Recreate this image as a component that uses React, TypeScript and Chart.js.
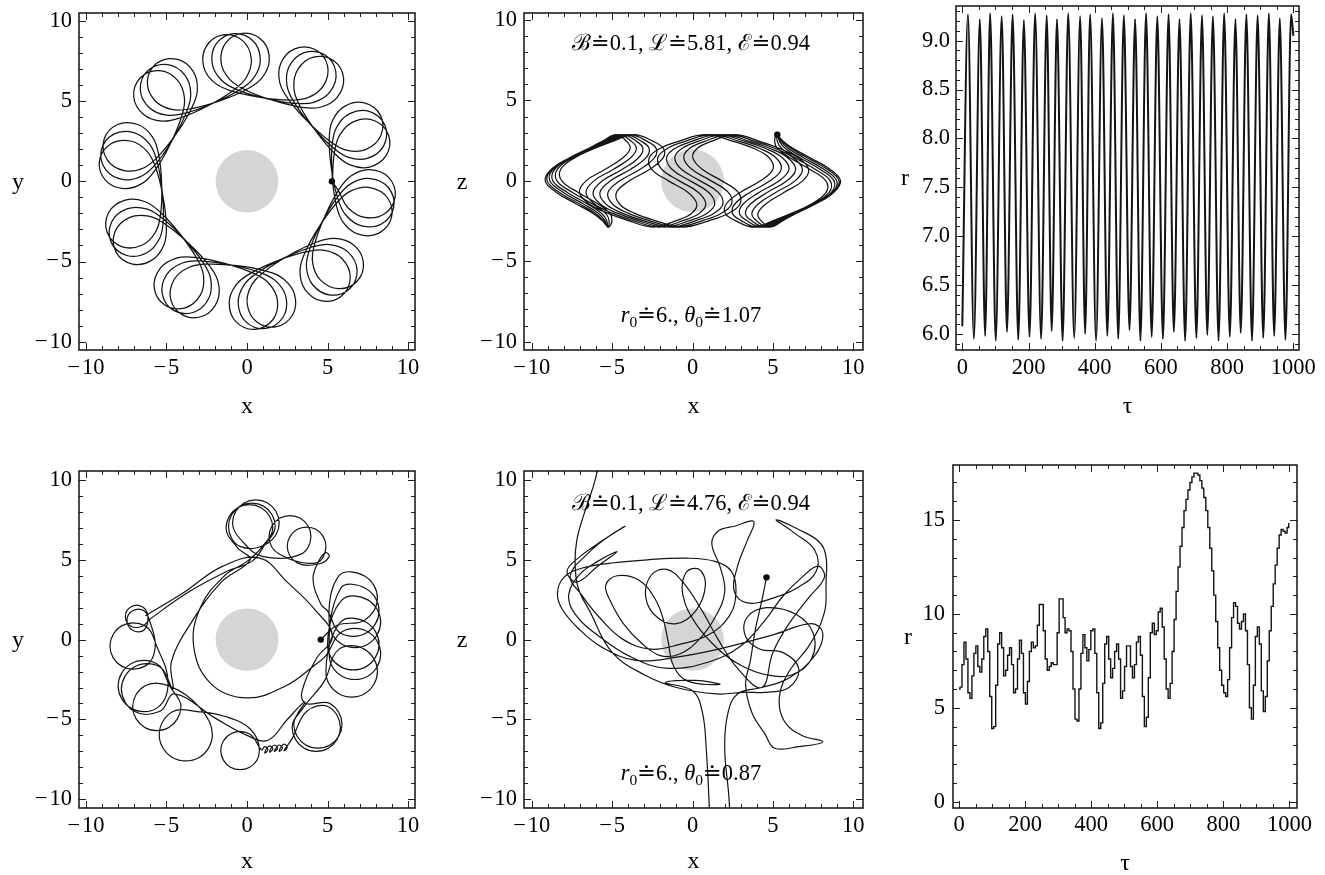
import React, { useEffect, useRef } from "react";
import { Chart, registerables } from "chart.js";
Chart.register(...registerables);

const SERIF = '"Liberation Serif", "Times New Roman", "DejaVu Serif", serif';

// ---------------- tick values ----------------
const xyMajor = [-10, -5, 0, 5, 10];
const xyMinor = [-9, -8, -7, -6, -4, -3, -2, -1, 1, 2, 3, 4, 6, 7, 8, 9];
const tauMajor = [0, 200, 400, 600, 800, 1000];
const tauMinor = [50, 100, 150, 250, 300, 350, 450, 500, 550, 650, 700, 750, 850, 900, 950];
const rTopMajor = [6.0, 6.5, 7.0, 7.5, 8.0, 8.5, 9.0];
const rTopMinor = [5.9, 6.1, 6.2, 6.3, 6.4, 6.6, 6.7, 6.8, 6.9, 7.1, 7.2, 7.3, 7.4, 7.6, 7.7, 7.8, 7.9, 8.1, 8.2, 8.3, 8.4, 8.6, 8.7, 8.8, 8.9, 9.1, 9.2, 9.3];
const rBotMajor = [0, 5, 10, 15];
const rBotMinor = [1, 2, 3, 4, 6, 7, 8, 9, 11, 12, 13, 14, 16, 17];

// ---------------- annotations ----------------
const noteTop1 = "\u212C\u22500.1, \u2112\u22505.81, \u2130\u22500.94";
const noteBot1 = ["6.,", "1.07"];
const noteTop2 = "\u212C\u22500.1, \u2112\u22504.76, \u2130\u22500.94";
const noteBot2 = ["6.,", "0.87"];

// ---------------- orbit 1 (regular), read in polar form: [azimuth deg, r_xy, z] ----------------
const orbit1Start = [0, 5.27, 2.87];
const orbit1 = [
  [-5.8,5.7,2.44],[-14.7,6.48,2.01],[-17.1,7.65,1.44],[-13.3,8.78,0.72],[-5.8,9.25,0],[1.7,8.78,-0.72],[5.5,7.65,-1.44],[3.1,6.48,-2.01],[-5.8,5.7,-2.44],[-24,5.3,-2.87],
  [-42.2,5.7,-2.44],[-51.1,6.48,-2.01],[-53.5,7.65,-1.44],[-49.7,8.78,-0.72],[-42.2,9.25,0],[-34.7,8.78,0.72],[-30.9,7.65,1.44],[-33.3,6.48,2.01],[-42.2,5.7,2.44],[-60.4,5.3,2.87],
  [-78.6,5.7,2.44],[-87.5,6.48,2.01],[-89.9,7.65,1.44],[-86.1,8.78,0.72],[-78.6,9.25,0],[-71.1,8.78,-0.72],[-67.3,7.65,-1.44],[-69.7,6.48,-2.01],[-78.6,5.7,-2.44],[-96.8,5.3,-2.87],
  [-115.1,5.7,-2.44],[-124,6.48,-2.01],[-126.4,7.65,-1.44],[-122.6,8.78,-0.72],[-115.1,9.25,0],[-107.6,8.78,0.72],[-103.8,7.65,1.44],[-106.2,6.48,2.01],[-115.1,5.7,2.44],[-133.3,5.3,2.87],
  [-151.5,5.7,2.44],[-160.4,6.48,2.01],[-162.8,7.65,1.44],[-159,8.78,0.72],[-151.5,9.25,0],[-144,8.78,-0.72],[-140.2,7.65,-1.44],[-142.6,6.48,-2.01],[-151.5,5.7,-2.44],[-169.7,5.3,-2.87],
  [172.1,5.7,-2.44],[163.2,6.48,-2.01],[160.8,7.65,-1.44],[164.6,8.78,-0.72],[172.1,9.25,0],[179.6,8.78,0.72],[183.4,7.65,1.44],[181,6.48,2.01],[172.1,5.7,2.44],[153.9,5.3,2.87],
  [135.7,5.7,2.44],[126.8,6.48,2.01],[124.4,7.65,1.44],[128.2,8.78,0.72],[135.7,9.25,0],[143.2,8.78,-0.72],[147,7.65,-1.44],[144.6,6.48,-2.01],[135.7,5.7,-2.44],[117.5,5.3,-2.87],
  [99.3,5.7,-2.44],[90.4,6.48,-2.01],[88,7.65,-1.44],[91.8,8.78,-0.72],[99.3,9.25,0],[106.8,8.78,0.72],[110.6,7.65,1.44],[108.2,6.48,2.01],[99.3,5.7,2.44],[81.1,5.3,2.87],
  [62.8,5.7,2.44],[53.9,6.48,2.01],[51.5,7.65,1.44],[55.3,8.78,0.72],[62.8,9.25,0],[70.3,8.78,-0.72],[74.1,7.65,-1.44],[71.7,6.48,-2.01],[62.8,5.7,-2.44],[44.6,5.3,-2.87],
  [26.4,5.7,-2.44],[17.5,6.48,-2.01],[15.1,7.65,-1.44],[18.9,8.78,-0.72],[26.4,9.25,0],[33.9,8.78,0.72],[37.7,7.65,1.44],[35.3,6.48,2.01],[26.4,5.7,2.44],[8.2,5.3,2.87],
  [-10,5.7,2.44],[-18.9,6.48,2.01],[-21.3,7.65,1.44],[-17.5,8.78,0.72],[-10,9.25,0],[-2.5,8.78,-0.72],[1.3,7.65,-1.44],[-1.1,6.48,-2.01],[-10,5.7,-2.44],[-28.2,5.3,-2.87],
  [-46.4,5.7,-2.44],[-55.3,6.48,-2.01],[-57.7,7.65,-1.44],[-53.9,8.78,-0.72],[-46.4,9.25,0],[-38.9,8.78,0.72],[-35.1,7.65,1.44],[-37.5,6.48,2.01],[-46.4,5.7,2.44],[-64.6,5.3,2.87],
  [-82.8,5.7,2.44],[-91.7,6.48,2.01],[-94.1,7.65,1.44],[-90.3,8.78,0.72],[-82.8,9.25,0],[-75.3,8.78,-0.72],[-71.5,7.65,-1.44],[-73.9,6.48,-2.01],[-82.8,5.7,-2.44],[-101,5.3,-2.87],
  [-119.3,5.7,-2.44],[-128.2,6.48,-2.01],[-130.6,7.65,-1.44],[-126.8,8.78,-0.72],[-119.3,9.25,0],[-111.8,8.78,0.72],[-108,7.65,1.44],[-110.4,6.48,2.01],[-119.3,5.7,2.44],[-137.5,5.3,2.87],
  [-155.7,5.7,2.44],[-164.6,6.48,2.01],[-167,7.65,1.44],[-163.2,8.78,0.72],[-155.7,9.25,0],[-148.2,8.78,-0.72],[-144.4,7.65,-1.44],[-146.8,6.48,-2.01],[-155.7,5.7,-2.44],[-173.9,5.3,-2.87],
  [167.9,5.7,-2.44],[159,6.48,-2.01],[156.6,7.65,-1.44],[160.4,8.78,-0.72],[167.9,9.25,0],[175.4,8.78,0.72],[179.2,7.65,1.44],[176.8,6.48,2.01],[167.9,5.7,2.44],[149.7,5.3,2.87],
  [131.5,5.7,2.44],[122.6,6.48,2.01],[120.2,7.65,1.44],[124,8.78,0.72],[131.5,9.25,0],[139,8.78,-0.72],[142.8,7.65,-1.44],[140.4,6.48,-2.01],[131.5,5.7,-2.44],[113.3,5.3,-2.87],
  [95.1,5.7,-2.44],[86.2,6.48,-2.01],[83.8,7.65,-1.44],[87.6,8.78,-0.72],[95.1,9.25,0],[102.6,8.78,0.72],[106.4,7.65,1.44],[104,6.48,2.01],[95.1,5.7,2.44],[76.9,5.3,2.87],
  [58.6,5.7,2.44],[49.7,6.48,2.01],[47.3,7.65,1.44],[51.1,8.78,0.72],[58.6,9.25,0],[66.1,8.78,-0.72],[69.9,7.65,-1.44],[67.5,6.48,-2.01],[58.6,5.7,-2.44],[40.4,5.3,-2.87],
  [22.2,5.7,-2.44],[13.3,6.48,-2.01],[10.9,7.65,-1.44],[14.7,8.78,-0.72],[22.2,9.25,0],[29.7,8.78,0.72],[33.5,7.65,1.44],[31.1,6.48,2.01],[22.2,5.7,2.44],[4,5.3,2.87],
  [-14.2,5.7,2.44],[-23.1,6.48,2.01],[-25.5,7.65,1.44],[-21.7,8.78,0.72],[-14.2,9.25,0],[-6.7,8.78,-0.72],[-2.9,7.65,-1.44],[-5.3,6.48,-2.01],[-14.2,5.7,-2.44],[-32.4,5.3,-2.87],
  [-50.6,5.7,-2.44],[-59.5,6.48,-2.01],[-61.9,7.65,-1.44],[-58.1,8.78,-0.72],[-50.6,9.25,0],[-43.1,8.78,0.72],[-39.3,7.65,1.44],[-41.7,6.48,2.01],[-50.6,5.7,2.44],[-68.8,5.3,2.87],
  [-87,5.7,2.44],[-95.9,6.48,2.01],[-98.3,7.65,1.44],[-94.5,8.78,0.72],[-87,9.25,0],[-79.5,8.78,-0.72],[-75.7,7.65,-1.44],[-78.1,6.48,-2.01],[-87,5.7,-2.44],[-105.2,5.3,-2.87],
  [-123.5,5.7,-2.44],[-132.4,6.48,-2.01],[-134.8,7.65,-1.44],[-131,8.78,-0.72],[-123.5,9.25,0],[-116,8.78,0.72],[-112.2,7.65,1.44],[-114.6,6.48,2.01],[-123.5,5.7,2.44],[-141.7,5.3,2.87],
  [-159.9,5.7,2.44],[-168.8,6.48,2.01],[-171.2,7.65,1.44],[-167.4,8.78,0.72],[-159.9,9.25,0],[-152.4,8.78,-0.72],[-148.6,7.65,-1.44],[-151,6.48,-2.01],[-159.9,5.7,-2.44],[-178.1,5.3,-2.87],
  [163.7,5.7,-2.44],[154.8,6.48,-2.01],[152.4,7.65,-1.44],[156.2,8.78,-0.72],[163.7,9.25,0],[171.2,8.78,0.72],[175,7.65,1.44],[172.6,6.48,2.01],[163.7,5.7,2.44],[145.5,5.3,2.87],
  [127.3,5.7,2.44],[118.4,6.48,2.01],[116,7.65,1.44],[119.8,8.78,0.72],[127.3,9.25,0],[134.8,8.78,-0.72],[138.6,7.65,-1.44],[136.2,6.48,-2.01],[127.3,5.7,-2.44],[109.1,5.3,-2.87],
  [90.9,5.7,-2.44],[82,6.48,-2.01],[79.6,7.65,-1.44],[83.4,8.78,-0.72],[90.9,9.25,0],[98.4,8.78,0.72],[102.2,7.65,1.44],[99.8,6.48,2.01],[90.9,5.7,2.44],[72.7,5.3,2.87],
  [54.4,5.7,2.44],[45.5,6.48,2.01],[43.1,7.65,1.44],[46.9,8.78,0.72],[54.4,9.25,0],[61.9,8.78,-0.72],[65.7,7.65,-1.44],[63.3,6.48,-2.01],[54.4,5.7,-2.44],[36.2,5.3,-2.87],
  [18,5.7,-2.44],[9.1,6.48,-2.01],[6.7,7.65,-1.44],[10.5,8.78,-0.72],[18,9.25,0],[25.5,8.78,0.72],[29.3,7.65,1.44],[26.9,6.48,2.01],[18,5.7,2.44],[-0.2,5.3,2.87],
];

// ---------------- r(tau), regular orbit: turning points ----------------
const tauTop = [0,17,35,53,69,84,101,119,135,152,169,186,203,220,238,255,270,286,303,320,338,356,371,386,404,422,438,455,471,488,505,522,538,555,572,589,606,623,639,656,673,690,707,724,740,757,774,791,808,825,841,858,875,892,909,926,942,959,976,993,1000];
const rTop = [6.08,9.27,5.95,9.22,5.98,9.28,5.93,9.25,6.02,9.27,5.94,9.21,5.97,9.28,5.95,9.26,6.03,9.22,5.93,9.28,5.96,9.25,6.0,9.27,5.93,9.23,5.98,9.28,5.95,9.26,6.04,9.22,5.93,9.28,5.97,9.25,5.95,9.27,6.02,9.22,5.93,9.28,5.96,9.26,5.99,9.25,5.93,9.28,5.97,9.22,6.01,9.27,5.93,9.26,5.96,9.28,5.98,9.23,5.94,9.27,9.05];

// ---------------- orbit 2 (chaotic) ----------------
const orbit2XY = [
  [4.58,0],[5.6,0.9],[7.3,1.21],[8.1,2.6],[7.3,3.99],[5.7,3.99],
  [5.1,1.1],[5.9,-0.29],[7.5,-0.29],[8.3,1.1],[7.5,2.49],[5.9,2.49],
  [5.0,-0.3],[5.8,-1.69],[7.4,-1.69],[8.2,-0.3],[7.4,1.09],[5.8,1.09],
  [4.9,-2.0],[5.7,-3.39],[7.3,-3.39],[8.1,-2.0],[7.3,-0.61],[5.7,-0.61],
  [4.8,-2.6],[3.55,-4.2],[2.8,-5.5],[3.55,-6.8],[5.05,-6.8],[5.8,-5.5],[5.05,-4.2],
  [3.7,-4.5],[2.8,-6.2],
  [2.3,-6.95],[2.5,-6.75],[2.3,-6.55],[2.1,-6.75],[2.0,-7.0],[2.2,-6.8],[2.0,-6.6],[1.8,-6.8],[1.7,-7.0],[1.9,-6.8],[1.7,-6.6],[1.5,-6.8],[1.4,-7.05],[1.6,-6.85],[1.4,-6.65],[1.2,-6.85],[1.1,-7.1],[1.3,-6.9],[1.1,-6.7],[0.9,-6.9],
  [0.17,-5.91],[-1.03,-5.91],[-1.63,-6.95],[-1.03,-7.99],[0.17,-7.99],[0.77,-6.95],[0.2,-5.6],
  [-1.4,-4.8],[-2.97,-4.52],[-4.63,-4.52],[-5.45,-5.95],[-4.63,-7.38],[-2.97,-7.38],[-2.15,-5.95],[-2.9,-4.3],
  [-4.85,-2.9],[-6.35,-2.9],[-7.1,-4.2],[-6.35,-5.5],[-4.85,-5.5],[-4.1,-4.2],
  [-4.8,-2.9],[-5.6,-1.51],[-7.2,-1.51],[-8.0,-2.9],[-7.2,-4.29],[-5.6,-4.29],[-4.9,-2.7],
  [-5.61,-0.4],[-6.33,0.86],[-7.79,0.86],[-8.51,-0.4],[-7.79,-1.66],[-6.33,-1.66],[-5.7,-0.5],
  [-6.05,1.2],[-6.4,1.81],[-7.1,1.81],[-7.45,1.2],[-7.1,0.59],[-6.4,0.59],
  [-6.15,1.45],[-6.5,2.06],[-7.2,2.06],[-7.55,1.45],[-7.2,0.84],[-6.5,0.84],[-6.0,1.3],
  [-3.6,3.0],[-1.2,4.3],[0.3,4.9],
  [1.03,5.84],[1.75,7.1],[1.03,8.36],[-0.43,8.36],[-1.15,7.1],[-0.43,5.84],
  [1.28,6.04],[2.0,7.3],[1.28,8.56],[-0.18,8.56],[-0.9,7.3],[-0.18,6.04],
  [1.0,5.2],
  [3.32,5.34],[3.97,6.47],[3.32,7.6],[2.02,7.6],[1.37,6.47],[2.02,5.34],
  [4.3,4.81],[4.9,5.85],[4.3,6.89],[3.1,6.89],[2.5,5.85],[3.1,4.81],
  [4.5,4.75],[5.1,5.2],[4.9,5.45],[4.5,5.0],[4.1,3.8],[4.6,2.2],
  [5.0,1.8],[5.8,0.41],[7.4,0.41],[8.2,1.8],[7.4,3.19],[5.8,3.19],
  [5.1,-0.9],[5.9,-2.29],[7.5,-2.29],[8.3,-0.9],[7.5,0.49],[5.9,0.49],
  [4.9,-1.0],[4.2,-1.6],[2.4,-2.9],[0.0,-3.65],[-2.2,-2.8],[-3.3,-0.5],[-2.9,2.0],[-1.4,4.0],[0.0,4.9],
  [0.88,5.74],[1.6,7.0],[0.88,8.26],[-0.58,8.26],[-1.3,7.0],[-0.58,5.74],
  [0.2,5.0],[-1.6,3.6],[-3.5,1.0],[-4.7,-1.4],
  [-4.6,-3.1],[-5.4,-1.71],[-7.0,-1.71],[-7.8,-3.1],[-7.0,-4.49],[-5.4,-4.49],
  [-4.5,-3.4],[-2.0,-4.9],[0.0,-6.0],[1.3,-6.3],[2.5,-5.0],[3.6,-3.9],
  [2.9,-5.3],[3.65,-6.6],[5.15,-6.6],[5.9,-5.3],[5.15,-4.0],[3.65,-4.0],
  [3.4,-3.3],[4.3,-1.2],[5.3,0.2],[4.2,1.9],[2.5,3.6],[0.8,5.1],[-1.5,4.6],[-4.0,2.9],[-6.3,1.5],
];

const orbit2XZ = [
  [4.6,3.9],[4.3,2.4],[3.9,0.6],[3.6,-1.3],[3.3,-2.8],[3.7,-4.6],[4.5,-5.9],[5.1,-6.8],[6.6,-6.7],[8.1,-6.4],
  [6.8,-6.0],[5.7,-5.1],[5.4,-3.6],[6.0,-2.0],[7.3,-0.3],[8.2,1.7],[8.3,3.6],[8.3,5.2],[7.9,6.1],[6.6,6.9],
  [5.2,7.5],[6.3,6.7],[7.6,5.6],[7.7,4.3],[6.6,3.3],[5.0,2.6],[3.4,2.3],[2.6,3.0],[2.8,4.6],[3.4,6.2],
  [3.8,7.4],[2.6,7.1],[1.6,6.8],[1.2,6.0],[1.7,4.6],[2.0,3.0],[1.4,1.4],[0.4,0.0],[-0.8,-0.9],[-2.0,-1.0],
  [-3.2,-0.2],[-4.3,1.0],[-5.1,2.4],[-5.4,3.4],[-4.7,4.0],[-3.3,3.7],[-2.3,2.5],[-1.8,1.2],[-1.5,-0.2],[-1.2,-1.6],
  [-0.3,-2.6],[1.7,-2.8],[0.2,-2.55],[-1.7,-2.7],[0.0,-3.2],[0.6,-4.5],[0.85,-6.8],[1.05,-10.7],[1.3,-17.0],[2.1,-17.0],
  [2.3,-10.7],[2.0,-6.8],[2.2,-4.6],[2.8,-3.4],[4.3,-3.0],[6.0,-2.4],[7.6,-1.0],[8.1,0.4],[7.4,1.0],[5.0,0.3],
  [2.0,-0.5],[-1.0,-1.1],[-3.5,-1.3],[-5.6,-0.5],[-7.1,0.7],[-8.1,1.9],[-8.4,2.9],[-8.0,3.9],[-6.8,4.5],[-5.0,4.8],
  [-2.8,5.0],[-0.4,5.1],[1.4,4.9],[2.4,4.3],[2.7,3.0],[2.3,1.5],[1.0,0.3],[-0.8,-0.3],[-2.6,-0.6],[-4.3,0.0],
  [-5.8,1.4],[-6.9,2.8],[-7.6,4.0],[-6.5,5.4],[-5.3,6.4],[-4.2,7.1],[-5.6,6.2],[-7.0,5.2],[-7.8,4.3],[-7.2,3.6],
  [-5.9,4.6],[-4.7,5.5],[-5.9,4.9],[-7.0,4.1],[-7.7,2.8],[-7.3,1.6],[-5.8,0.2],[-3.6,-1.2],[-1.5,-1.8],[1.0,-1.4],
  [3.0,-0.4],[4.5,1.2],[5.6,2.7],[6.8,3.9],[7.8,4.6],[8.2,3.9],[7.2,2.6],[6.0,1.0],[5.0,-0.8],[4.3,-3.0],
  [2.8,-1.8],[1.6,0.0],[0.6,1.8],[-0.6,3.6],[-1.6,4.4],[-2.6,4.0],[-2.9,2.6],[-2.2,1.4],[-1.0,1.0],[0.2,1.8],
  [0.8,3.4],[0.4,4.4],[-0.4,4.2],[-0.6,2.8],[0.2,1.0],[1.6,-0.6],[3.0,-1.6],[4.6,-2.2],[6.2,-2.2],[7.4,-1.2],
  [7.5,0.4],[6.4,1.6],[4.6,2.0],[3.4,1.4],[3.3,0.2],[4.2,-0.6],[5.6,-0.8],[6.6,-1.8],[6.0,-3.0],[4.5,-3.3],
  [3.2,-3.3],[1.5,-3.4],[-1.0,-3.0],[-3.0,-2.2],[-5.0,-0.8],[-6.4,1.8],[-7.1,3.2],[-7.3,4.7],[-7.2,6.2],[-6.8,7.7],
  [-6.2,9.5],[-5.9,10.7],[-5.3,15.0],
];

// ---------------- r(tau), chaotic orbit ----------------
const tauBot = [0,6,12,18,24,30,36,42,48,54,60,66,72,78,84,90,96,102,108,114,120,126,132,138,144,150,156,162,168,174,180,186,192,198,204,210,216,222,228,234,240,246,252,258,264,270,276,282,288,294,300,306,312,318,324,330,336,342,348,354,360,366,372,378,384,390,396,402,408,414,420,426,432,438,444,450,456,462,468,474,480,486,492,498,504,510,516,522,528,534,540,546,552,558,564,570,576,582,588,594,600,606,612,618,624,630,636,642,648,654,660,666,672,678,684,690,696,702,708,714,720,726,732,738,744,750,756,762,768,774,780,786,792,798,804,810,816,822,828,834,840,846,852,858,864,870,876,882,888,894,900,906,912,918,924,930,936,942,948,954,960,966,972,978,984,990,996,1000];
const rBot = [6.0,6.1,7.3,8.5,7.6,5.8,5.5,6.7,7.9,8.3,7.2,6.9,7.6,8.8,9.2,8.0,5.6,3.9,4.0,6.2,8.4,9.0,8.2,6.7,7.0,7.8,8.2,7.3,5.8,6.0,7.6,8.6,7.9,5.8,5.2,6.4,8.0,8.5,8.2,8.3,9.4,10.5,10.5,9.1,7.6,7.0,7.2,7.4,7.3,7.3,9.0,10.8,10.8,9.8,9.0,9.2,9.1,8.0,6.0,4.4,4.3,6.0,7.9,8.9,8.2,7.5,8.1,9.1,9.2,7.9,5.8,3.9,4.2,6.3,8.4,8.8,7.6,6.6,7.1,8.0,8.4,7.6,5.5,5.9,7.2,8.3,8.3,7.2,6.6,7.3,8.5,8.8,7.8,5.6,4.0,4.5,6.6,9.0,9.5,8.9,9.1,10.1,10.3,9.3,7.6,6.0,5.5,6.3,8.0,9.7,11.2,12.5,13.6,14.6,15.5,16.1,16.6,17.0,17.3,17.5,17.5,17.4,17.1,16.7,16.2,15.5,14.6,13.5,12.3,11.0,9.6,8.2,7.0,6.2,5.8,5.6,6.5,8.2,9.8,10.6,10.4,9.5,9.2,9.6,10.0,9.1,7.3,5.0,4.4,6.2,8.8,9.3,8.4,5.9,4.8,5.6,7.5,9.1,10.4,11.6,12.6,13.5,14.2,14.5,14.4,14.3,14.6,14.8];

// ---------------- helpers ----------------
const DEG = Math.PI / 180;
const polarXY = (rows) => rows.map(([p, r]) => ({ x: r * Math.cos(p * DEG), y: r * Math.sin(p * DEG) }));
const polarXZ = (rows) => rows.map(([p, r, z]) => ({ x: r * Math.cos(p * DEG), y: z }));
const pairs = (rows) => rows.map(([a, b]) => ({ x: a, y: b }));
const zipXY = (xs, ys) => xs.map((x, i) => ({ x, y: ys[i] }));

const fmtSigned = (v) => (v < 0 ? "\u2212\u200A" + Math.abs(v) : String(v));
const fmtOne = (v) => Number(v).toFixed(1);
const fmtInt = (v) => String(v);

const LINE = "#141414";
const trajectory = (data, width = 1.2) => ({
  data, showLine: true, borderColor: LINE, borderWidth: width, pointRadius: 0, tension: 0.4, fill: false,
});
const dot = (pt) => ({
  data: [pt], showLine: false, pointRadius: 3.2, pointBackgroundColor: "#000", pointBorderWidth: 0,
});

function drawRuns(ctx, runs, cx, cy) {
  const size = 22.5, sub = 15.5;
  const fontOf = (r) => `${r.i ? "italic " : ""}${r.sub ? sub : size}px ${SERIF}`;
  let total = 0;
  const widths = runs.map((r) => {
    ctx.font = fontOf(r);
    const w = ctx.measureText(r.t).width;
    total += w;
    return w;
  });
  let x = cx - total / 2;
  const base = cy + 7;
  ctx.textAlign = "left";
  ctx.textBaseline = "alphabetic";
  runs.forEach((r, i) => {
    ctx.font = fontOf(r);
    ctx.fillText(r.t, x, r.sub ? base + 5 : base);
    x += widths[i];
  });
}

function Panel(p) {
  const ref = useRef(null);
  useEffect(() => {
    const [al, at, ar, ab] = p.area;
    const plugin = {
      id: "frame",
      beforeDatasetsDraw(chart) {
        if (!p.disk) return;
        const xs = chart.scales.x, ys = chart.scales.y, ctx = chart.ctx;
        const cx = xs.getPixelForValue(0), cy = ys.getPixelForValue(0);
        const rx = Math.abs(xs.getPixelForValue(p.disk) - cx);
        const ry = Math.abs(ys.getPixelForValue(p.disk) - cy);
        ctx.save();
        ctx.fillStyle = "#d5d5d5";
        ctx.beginPath();
        ctx.ellipse(cx, cy, rx, ry, 0, 0, Math.PI * 2);
        ctx.fill();
        ctx.restore();
      },
      afterDraw(chart) {
        const ctx = chart.ctx, a = chart.chartArea, xs = chart.scales.x, ys = chart.scales.y;
        ctx.save();
        ctx.strokeStyle = "#222";
        ctx.lineWidth = 1;
        const tx = (vals, len) => vals.forEach((v) => {
          const px = Math.round(xs.getPixelForValue(v)) + 0.5;
          if (px < a.left || px > a.right) return;
          ctx.beginPath();
          ctx.moveTo(px, a.bottom); ctx.lineTo(px, a.bottom - len);
          ctx.moveTo(px, a.top); ctx.lineTo(px, a.top + len);
          ctx.stroke();
        });
        const ty = (vals, len) => vals.forEach((v) => {
          const py = Math.round(ys.getPixelForValue(v)) + 0.5;
          if (py < a.top || py > a.bottom) return;
          ctx.beginPath();
          ctx.moveTo(a.left, py); ctx.lineTo(a.left + len, py);
          ctx.moveTo(a.right, py); ctx.lineTo(a.right - len, py);
          ctx.stroke();
        });
        tx(p.xMajor, 7); tx(p.xMinor, 4); ty(p.yMajor, 7); ty(p.yMinor, 4);
        ctx.strokeStyle = "#111";
        ctx.lineWidth = 1.5;
        ctx.strokeRect(a.left, a.top, a.right - a.left, a.bottom - a.top);
        ctx.fillStyle = "#000";
        ctx.font = `24px ${SERIF}`;
        ctx.textAlign = "center";
        ctx.textBaseline = "alphabetic";
        ctx.fillText(p.xTitle, (a.left + a.right) / 2, a.bottom + p.xTitleDy);
        ctx.fillText(p.yTitle, a.left - p.yTitleDx, (a.top + a.bottom) / 2 + 7);
        (p.notes || []).forEach((n) => drawRuns(ctx, n.runs, xs.getPixelForValue(n.x), ys.getPixelForValue(n.y)));
        ctx.restore();
      },
    };
    const tickFont = { family: SERIF, size: 22.5 };
    const chart = new Chart(ref.current, {
      type: "scatter",
      data: { datasets: p.datasets },
      options: {
        animation: false,
        responsive: false,
        maintainAspectRatio: false,
        devicePixelRatio: 1,
        events: [],
        layout: { padding: { left: 0, top: at, right: p.width - ar, bottom: 0 } },
        elements: { line: { capBezierPoints: false } },
        plugins: { legend: { display: false }, tooltip: { enabled: false } },
        scales: {
          x: {
            type: "linear", min: p.xMin, max: p.xMax,
            grid: { display: false, drawTicks: false }, border: { display: false },
            ticks: { color: "#000", font: tickFont, padding: p.xPad, maxRotation: 0, autoSkip: false, callback: (v) => p.xFmt(v) },
            afterBuildTicks: (s) => { s.ticks = p.xMajor.map((v) => ({ value: v })); },
            afterFit: (s) => { s.height = p.height - ab; s.paddingLeft = 0; s.paddingRight = 0; },
          },
          y: {
            type: "linear", min: p.yMin, max: p.yMax,
            grid: { display: false, drawTicks: false }, border: { display: false },
            ticks: { color: "#000", font: tickFont, padding: p.yPad, autoSkip: false, callback: (v) => p.yFmt(v) },
            afterBuildTicks: (s) => { s.ticks = p.yMajor.map((v) => ({ value: v })); },
            afterFit: (s) => { s.width = al; s.paddingTop = 0; s.paddingBottom = 0; },
          },
        },
      },
      plugins: [plugin],
    });
    return () => chart.destroy();
  }, []);
  return (
    <canvas
      ref={ref}
      width={p.width}
      height={p.height}
      style={{ position: "absolute", left: p.left, top: p.top, width: p.width, height: p.height }}
    />
  );
}

const bottomNote = (vals) => [
  { t: "r", i: true }, { t: "0", sub: true }, { t: "\u2250" + vals[0] + " " },
  { t: "\u03B8", i: true }, { t: "0", sub: true }, { t: "\u2250" + vals[1] },
];

export default function App() {
  const o1xy = polarXY([orbit1Start, ...orbit1]);
  const o1xz = polarXZ([orbit1Start, ...orbit1]);
  const o2xy = pairs(orbit2XY);
  const o2xz = pairs(orbit2XZ);
  const xyCommon = { xMajor: xyMajor, xMinor: xyMinor, yMajor: xyMajor, yMinor: xyMinor, xFmt: fmtSigned, yFmt: fmtSigned, disk: 1.95, xPad: 5, yPad: 7 };
  return (
    <div style={{ position: "absolute", left: 0, top: 0, width: 1325, height: 875, background: "#fff" }}>
      <Panel {...xyCommon} left={0} top={0} width={440} height={440} area={[79, 13, 415, 350]}
        xMin={-10.43} xMax={10.43} yMin={-10.52} yMax={10.5} xTitle="x" yTitle="y" xTitleDy={63} yTitleDx={61}
        datasets={[trajectory(o1xy, 1.25), dot(o1xy[0])]} />
      <Panel {...xyCommon} left={440} top={0} width={440} height={440} area={[84, 13, 423, 350]}
        xMin={-10.48} xMax={10.6} yMin={-10.52} yMax={10.44} xTitle="x" yTitle="z" xTitleDy={63} yTitleDx={62}
        notes={[{ x: -0.1, y: 8.6, runs: [{ t: noteTop1 }] }, { x: -0.1, y: -8.36, runs: bottomNote(noteBot1) }]}
        datasets={[trajectory(o1xz, 1.25), dot(o1xz[0])]} />
      <Panel left={880} top={0} width={445} height={440} area={[76, 6, 419, 350]}
        xMin={-19} xMax={1017} yMin={5.836} yMax={9.355}
        xMajor={tauMajor} xMinor={tauMinor} yMajor={rTopMajor} yMinor={rTopMinor}
        xFmt={fmtInt} yFmt={fmtOne} xPad={5} yPad={6}
        xTitle={"\u03C4"} yTitle="r" xTitleDy={63} yTitleDx={51}
        datasets={[{ ...trajectory(zipXY(tauTop, rTop), 2.0), cubicInterpolationMode: "monotone" }]} />
      <Panel {...xyCommon} left={0} top={440} width={440} height={435} area={[79, 31, 415, 368]}
        xMin={-10.43} xMax={10.43} yMin={-10.545} yMax={10.56} xTitle="x" yTitle="y" xTitleDy={60} yTitleDx={61}
        datasets={[trajectory(o2xy), dot(o2xy[0])]} />
      <Panel {...xyCommon} left={440} top={440} width={440} height={435} area={[84, 31, 423, 368]}
        xMin={-10.48} xMax={10.6} yMin={-10.545} yMax={10.56} xTitle="x" yTitle="z" xTitleDy={60} yTitleDx={62}
        notes={[{ x: -0.1, y: 8.55, runs: [{ t: noteTop2 }] }, { x: -0.1, y: -8.36, runs: bottomNote(noteBot2) }]}
        datasets={[trajectory(o2xz), dot(o2xz[0])]} />
      <Panel left={880} top={440} width={445} height={435} area={[73, 25, 417, 368]}
        xMin={-18.2} xMax={1023} yMin={-0.335} yMax={17.93}
        xMajor={tauMajor} xMinor={tauMinor} yMajor={rBotMajor} yMinor={rBotMinor}
        xFmt={fmtInt} yFmt={fmtInt} xPad={4} yPad={8}
        xTitle={"\u03C4"} yTitle="r" xTitleDy={62} yTitleDx={45}
        datasets={[{ ...trajectory(zipXY(tauBot, rBot), 1.4), tension: 0, stepped: "middle" }]} />
    </div>
  );
}
